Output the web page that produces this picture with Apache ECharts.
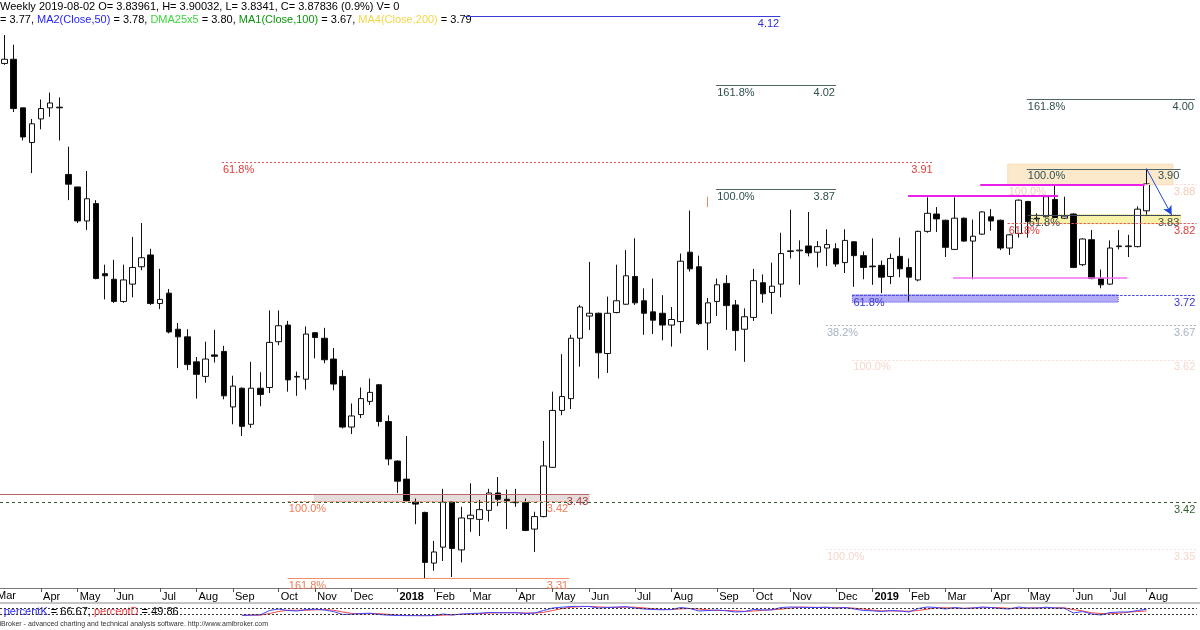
<!DOCTYPE html>
<html><head><meta charset="utf-8">
<script src="https://cdn.jsdelivr.net/npm/echarts/dist/echarts.min.js"></script>
<style>html,body{margin:0;padding:0;background:#fff}#c{width:1200px;height:630px}</style>
</head><body><div id="c"></div>
<script>
// ---------- DATA (weekly bars, first visible bar = 2017-03-10, last = 2019-08-02) ----------
const opens = [4.052,4.058,3.988,3.938,3.972,3.988,3.989,3.892,3.874,3.825,
3.850,3.749,3.741,3.709,3.734,3.759,3.776,3.706,3.721,3.669,
3.658,3.622,3.601,3.632,3.637,3.557,3.584,3.532,3.584,3.585,
3.651,3.675,3.601,3.597,3.664,3.656,3.626,3.601,3.528,3.546,
3.565,3.589,3.536,3.479,3.453,3.420,3.405,3.332,3.355,3.420,
3.351,3.396,3.395,3.408,3.433,3.424,3.420,3.419,3.381,3.399,
3.470,3.552,3.569,3.656,3.688,3.692,3.634,3.693,3.705,3.745,
3.710,3.694,3.692,3.675,3.680,3.780,3.759,3.678,3.709,3.735,
3.704,3.669,3.686,3.736,3.722,3.734,3.781,3.782,3.789,3.780,
3.786,3.785,3.765,3.795,3.775,3.760,3.761,3.745,3.774,3.758,
3.740,3.810,3.835,3.826,3.784,3.829,3.796,3.806,3.831,3.826,
3.786,3.807,3.853,3.829,3.831,3.856,3.829,3.835,3.762,3.798,
3.742,3.734,3.788,3.788,3.788,3.83961];
const highs = [4.093,4.079,3.988,3.972,4.000,4.010,4.003,3.932,3.874,3.897,
3.855,3.762,3.769,3.762,3.802,3.822,3.785,3.756,3.727,3.678,
3.669,3.629,3.651,3.668,3.645,3.602,3.585,3.622,3.607,3.696,
3.696,3.681,3.608,3.673,3.665,3.671,3.642,3.610,3.562,3.585,
3.598,3.590,3.545,3.480,3.515,3.425,3.406,3.364,3.439,3.421,
3.413,3.447,3.423,3.439,3.456,3.438,3.439,3.425,3.406,3.508,
3.579,3.633,3.661,3.704,3.766,3.693,3.716,3.762,3.783,3.800,
3.728,3.742,3.718,3.701,3.778,3.840,3.775,3.714,3.742,3.747,
3.711,3.699,3.756,3.748,3.765,3.808,3.841,3.797,3.838,3.796,
3.813,3.793,3.813,3.796,3.781,3.800,3.768,3.778,3.801,3.771,
3.811,3.859,3.845,3.827,3.859,3.830,3.827,3.839,3.842,3.827,
3.806,3.856,3.854,3.836,3.861,3.877,3.860,3.836,3.800,3.812,
3.755,3.797,3.812,3.805,3.846,3.90032];
const lows = [4.050,3.982,3.941,3.894,3.957,3.975,3.941,3.855,3.822,3.812,
3.741,3.712,3.707,3.707,3.715,3.754,3.704,3.698,3.663,3.613,
3.610,3.569,3.592,3.621,3.568,3.532,3.515,3.527,3.558,3.577,
3.646,3.579,3.573,3.582,3.627,3.620,3.581,3.526,3.518,3.541,
3.560,3.529,3.473,3.433,3.421,3.388,3.310,3.321,3.335,3.312,
3.333,3.377,3.371,3.392,3.414,3.381,3.413,3.378,3.348,3.398,
3.469,3.545,3.554,3.615,3.668,3.598,3.606,3.692,3.704,3.704,
3.661,3.662,3.653,3.644,3.663,3.752,3.675,3.639,3.688,3.668,
3.638,3.622,3.681,3.707,3.691,3.715,3.771,3.733,3.774,3.758,
3.760,3.759,3.750,3.730,3.741,3.733,3.721,3.734,3.744,3.709,
3.738,3.808,3.809,3.773,3.783,3.795,3.741,3.805,3.811,3.783,
3.776,3.801,3.801,3.824,3.830,3.829,3.828,3.757,3.760,3.741,
3.728,3.733,3.784,3.773,3.787,3.8341];
const closes = [4.058,3.987,3.946,3.965,3.987,3.995,3.988,3.878,3.825,3.857,
3.742,3.746,3.709,3.740,3.758,3.772,3.706,3.712,3.665,3.658,
3.618,3.604,3.626,3.630,3.573,3.587,3.529,3.584,3.575,3.650,
3.674,3.596,3.600,3.662,3.657,3.625,3.590,3.528,3.544,3.569,
3.578,3.536,3.482,3.450,3.422,3.417,3.333,3.348,3.420,3.353,
3.397,3.401,3.409,3.433,3.424,3.422,3.419,3.379,3.399,3.472,
3.552,3.572,3.656,3.701,3.692,3.635,3.692,3.710,3.746,3.707,
3.692,3.682,3.675,3.683,3.767,3.756,3.677,3.707,3.733,3.703,
3.667,3.687,3.739,3.720,3.731,3.778,3.782,3.783,3.779,3.788,
3.791,3.763,3.797,3.775,3.758,3.759,3.744,3.771,3.756,3.744,
3.810,3.836,3.828,3.787,3.829,3.796,3.803,3.838,3.825,3.786,
3.805,3.855,3.824,3.828,3.860,3.830,3.832,3.758,3.799,3.742,
3.733,3.786,3.789,3.789,3.842,3.87836];

const percentK = [null,null,null,null,null,null,null,null,null,null,
null,null,null,null,null,null,null,null,null,null,
null,null,null,null,null,null,5,10,12,55,
70,55,50,65,68,60,45,15,18,25,
28,15,8,5,3,3,2,5,20,10,
20,25,28,35,33,32,33,25,30,55,
80,88,95,97,95,80,85,90,93,80,
70,65,62,65,85,75,50,55,60,52,
40,45,65,60,62,85,90,88,85,85,
88,78,85,70,55,52,45,55,50,40,
75,90,85,70,85,75,80,90,85,75,
70,90,80,78,88,80,78,30,45,20,
10,35,40,40,55,66.67];
const percentD = [null,null,null,null,null,null,null,null,null,null,
null,null,null,null,null,null,null,null,null,null,
null,null,null,null,null,null,8,8,9,25,
45,58,58,57,61,64,58,40,26,19,
24,23,17,9,5,4,3,3,9,12,
17,18,24,29,32,33,33,30,29,37,
55,74,88,93,96,91,87,85,89,88,
81,72,66,64,71,75,70,60,55,56,
51,46,50,57,62,69,79,88,88,86,
86,84,84,78,70,59,51,51,50,48,
55,68,83,82,80,77,80,82,85,83,
77,78,80,83,82,82,82,63,51,32,
25,22,28,38,45,49.86];

// Weekly categories: the bars plus 5 empty future weeks
const firstWeek = '2017-03-10';
const weekCount = 131;
const monthNames = ['Jan','Feb','Mar','Apr','May','Jun','Jul','Aug','Sep','Oct','Nov','Dec'];

// Annotation levels: [fromBar, toBar, price, leftText, rightText, styleKey]
const levels = [
  [50.4, 84.9, 4.12, '', '4.12', 'blue'],
  [77.9, 91.0, 4.02, '161.8%', '4.02', 'slate'],
  [77.9, 91.0, 3.87, '100.0%', '3.87', 'slate'],
  [111.9, 130.3, 4.00, '161.8%', '4.00', 'slate'],
  [111.9, 128.7, 3.90, '100.0%', '3.90', 'slate'],
  [23.8, 101.7, 3.91, '61.8%', '3.91', 'redDot'],
  [-0.5, 64.0, 3.431, '', '3.43', 'brown'],
  [-0.5, 130.45, 3.420, '', '3.42', 'greenDot'],
  [31.0, 61.8, 3.421, '100.0%', '3.42', 'coralDot'],
  [31.0, 61.8, 3.3105, '161.8%', '3.31', 'coral'],
  [109.8, 130.45, 3.878, '100.0%', '3.88', 'faintSalmon'],
  [112.0, 128.7, 3.8336, '61.8%', '3.83', 'darkGray'],
  [109.8, 130.45, 3.822, '61.8%', '3.82', 'redDot'],
  [92.8, 130.45, 3.7175, '61.8%', '3.72', 'blueDot'],
  [89.9, 130.45, 3.674, '38.2%', '3.67', 'grayDot'],
  [92.8, 130.45, 3.625, '100.0%', '3.62', 'faintPink'],
  [89.9, 130.45, 3.352, '100.0%', '3.35', 'faintPink'],
  [106.8, 124.8, 3.877, '', '', 'magenta'],
  [98.9, 115.3, 3.861, '', '', 'magenta'],
  [103.8, 122.9, 3.743, '', '', 'pink']
];
// Zones: [fromBar, toBar, lowPrice, highPrice, styleKey]
const zones = [
  [33.9, 64.0, 3.420, 3.431, 'grayZone'],
  [109.8, 127.9, 3.877, 3.907, 'peach'],
  [112.0, 128.7, 3.821, 3.834, 'yellow'],
  [92.8, 121.9, 3.708, 3.7185, 'lavender']
];
// Segments: [fromBar, fromPrice, toBar, toPrice, styleKey]
const segments = [
  [125, 3.90032, 127.75, 3.8336, 'arrow'],
  [76.9, 3.860, 76.9, 3.845, 'orangeTick']
];

// ---------- STYLES ----------
const FONT = "'Liberation Sans', Arial, sans-serif";
const lineStyles = {
  blue: {color:'#3b3bd8', type:'solid', width:1, text:'#2f2fd0'},
  slate: {color:'#4f6464', type:'solid', width:1, text:'#2f4f4f'},
  redDot: {color:'#e85a5a', type:[2,2], width:1, text:'#e23a3a'},
  brown: {color:'#b86a6a', type:'solid', width:1, text:'#a53a3a'},
  greenDot: {color:'#2f5f2f', type:[3,3], width:1, text:'#2f5f2f'},
  coralDot: {color:'#f2906e', type:[2,2], width:1, text:'#f27b56'},
  coral: {color:'#f2906e', type:'solid', width:1, text:'#f27b56'},
  faintSalmon: {color:'#f9dccf', type:[2,2], width:1, text:'#f7cbb8'},
  darkGray: {color:'#3c4a5c', type:'solid', width:1, text:'#444c50'},
  blueDot: {color:'#4444e0', type:[2,2], width:1, text:'#3a3ad2'},
  grayDot: {color:'#aab6c4', type:[2,2], width:1, text:'#a6b3c2'},
  faintPink: {color:'#f9e3dc', type:[2,2], width:1, text:'#f5d6cc'},
  magenta: {color:'#ea1fea', type:'solid', width:2, text:'#ea1fea'},
  pink: {color:'#f070f0', type:'solid', width:1.5, text:'#f070f0'},
  arrow: {color:'#1f49d8', type:'solid', width:1, text:'#1f49d8'},
  orangeTick: {color:'#f08a60', type:'solid', width:1, text:'#f08a60'}
};
const zoneStyles = {
  grayZone: {color:'#e6dcdc', borderColor:'#d8c8c8'},
  peach: {color:'#fce9cc', borderColor:'#f3c88c'},
  yellow: {color:'#f8f1a8', borderColor:'#e8d070'},
  lavender: {color:'#b2acf6', borderColor:'#5a54e6'}
};

// ---------- BUILD ----------
const pad = n => (n < 10 ? '0' : '') + n;
const categories = [];
const monthOf = [];
{
  const d0 = new Date(firstWeek + 'T00:00:00Z');
  for (let k = 0; k < weekCount; k++) {
    const d = new Date(d0.getTime() + k * 7 * 86400000);
    categories.push(d.getUTCFullYear() + '-' + pad(d.getUTCMonth() + 1) + '-' + pad(d.getUTCDate()));
    monthOf.push(d.getUTCFullYear() * 12 + d.getUTCMonth());
  }
}
const lastBar = opens.length - 1;
const showMonth = (i) => i > 0 && i <= lastBar && monthOf[i] !== monthOf[i - 1];

const candleData = opens.map((o, i) => [i, o, closes[i], lows[i], highs[i]]);
const kData = percentK.map((v, i) => [i, v == null ? '-' : v]);
const dData = percentD.map((v, i) => [i, v == null ? '-' : v]);

const labelBase = {fontSize: 11, fontFamily: FONT, distance: [1, 2]};
const mlData = [];
levels.forEach(([x0, x1, p, lt, rt, sk]) => {
  const s = lineStyles[sk];
  const ls = {color: s.color, type: s.type, width: s.width, opacity: 1};
  mlData.push([
    {coord: [x0, p], lineStyle: ls,
     label: lt ? Object.assign({show: true, position: 'insideStartBottom', formatter: lt, color: s.text}, labelBase) : {show: false}},
    {coord: [x1, p]}
  ]);
  if (rt) {
    mlData.push([
      {coord: [x0, p], lineStyle: ls,
       label: Object.assign({show: true, position: 'insideEndBottom', formatter: rt, color: s.text}, labelBase)},
      {coord: [x1, p]}
    ]);
  }
});
segments.forEach(([x0, p0, x1, p1, sk]) => {
  const s = lineStyles[sk];
  mlData.push([
    {coord: [x0, p0], symbol: 'none', lineStyle: {color: s.color, type: s.type, width: s.width, opacity: 1}, label: {show: false}},
    {coord: [x1, p1], symbol: sk === 'arrow' ? 'arrow' : 'none', symbolSize: [7, 9]}
  ]);
});
const maData = zones.map(([x0, x1, pl, ph, sk]) => {
  const z = zoneStyles[sk];
  return [
    {coord: [x0, pl], itemStyle: {color: z.color, borderColor: z.borderColor, borderType: 'dotted', borderWidth: 1, opacity: 1}},
    {coord: [x1, ph]}
  ];
});

const chart = echarts.init(document.getElementById('c'));
const GRID_WIDTH = 1196.8;
const T11 = '11px ' + FONT;
chart.setOption({
  animation: false,
  backgroundColor: '#ffffff',
  textStyle: {fontFamily: FONT},
  grid: [
    {left: 0, top: 0, width: GRID_WIDTH, height: 588, containLabel: false},
    {left: 0, top: 606, width: GRID_WIDTH, height: 10, containLabel: false}
  ],
  xAxis: [
    {type: 'category', gridIndex: 0, data: categories, boundaryGap: true, position: 'bottom',
     axisLine: {show: true, lineStyle: {color: '#7a7a7a', width: 1}},
     axisTick: {show: true, alignWithLabel: true, interval: showMonth, length: 4, lineStyle: {color: '#555'}},
     axisLabel: {show: true, interval: showMonth, align: 'left', margin: 3, padding: [0, 0, 0, 2],
       fontSize: 11, color: '#000', fontFamily: FONT,
       formatter: (v) => {
         const m = +v.slice(5, 7) - 1;
         return m === 0 ? '{y|' + v.slice(0, 4) + '}' : monthNames[m];
       },
       rich: {y: {fontWeight: 'bold', fontSize: 11, color: '#000', fontFamily: FONT}}},
     splitLine: {show: false}},
    {type: 'value', gridIndex: 0, min: -0.5, max: 130.5, show: false, splitLine: {show: false}},
    {type: 'value', gridIndex: 1, min: -0.5, max: 130.5, show: false, splitLine: {show: false}}
  ],
  yAxis: [
    {type: 'value', gridIndex: 0, min: 3.2961, max: 4.1434, show: false, splitLine: {show: false}, scale: true},
    {type: 'value', gridIndex: 1, min: 0, max: 100, show: false, splitLine: {show: false}}
  ],
  series: [
    {
      type: 'candlestick', xAxisIndex: 1, yAxisIndex: 0,
      dimensions: ['bar', 'open', 'close', 'lowest', 'highest'],
      encode: {x: 'bar', y: ['open', 'close', 'lowest', 'highest']},
      data: candleData, barWidth: 6, silent: true,
      itemStyle: {color: '#ffffff', color0: '#000000', borderColor: '#111', borderColor0: '#111', borderWidth: 1},
      markLine: {silent: true, symbol: ['none', 'none'], animation: false, precision: 4, data: mlData},
      markArea: {silent: true, animation: false, data: maData}
    },
    {type: 'line', xAxisIndex: 2, yAxisIndex: 1, data: dData, showSymbol: false, silent: true,
     lineStyle: {color: '#f04848', width: 1}, connectNulls: false},
    {type: 'line', xAxisIndex: 2, yAxisIndex: 1, data: kData, showSymbol: false, silent: true,
     lineStyle: {color: '#4444ff', width: 1}, connectNulls: false,
     markLine: {silent: true, symbol: ['none', 'none'], label: {show: false},
       lineStyle: {color: '#333', type: [2, 2], width: 1},
       data: [{yAxis: 80}, {yAxis: 20}]}}
  ],
  graphic: [
    {type: 'text', left: 0, top: 1, silent: true,
     style: {text: 'Weekly 2019-08-02 O= 3.83961, H= 3.90032, L= 3.8341, C= 3.87836 (0.9%) V= 0', font: T11, fill: '#000'}},
    {type: 'text', left: 0, top: 14, silent: true,
     style: {text: '{k|= 3.77, }{b|MA2(Close,50)}{k| = 3.78, }{g|DMA25x5}{k| = 3.80, }{d|MA1(Close,100)}{k| = 3.67, }{y|MA4(Close,200)}{k| = 3.79}',
       font: T11, fill: '#000',
       rich: {k: {fill: '#000', color: '#000', font: T11},
              b: {fill: '#2424ff', color: '#2424ff', font: T11},
              g: {fill: '#3ad83a', color: '#3ad83a', font: T11},
              d: {fill: '#0a960a', color: '#0a960a', font: T11},
              y: {fill: '#f2d64a', color: '#f2d64a', font: T11}}}},
    {type: 'text', left: -3, top: 590, silent: true, style: {text: 'Mar', font: T11, fill: '#000'}},
    {type: 'line', silent: true, shape: {x1: 0, y1: 603, x2: 1200, y2: 603}, style: {stroke: '#8a8a8a', lineWidth: 1}},
    {type: 'text', left: -3, top: 606, silent: true,
     style: {text: '{b|- percentK}{k| = 66.67, }{r|percentD}{k| = 49.86}',
       font: T11, fill: '#000',
       rich: {k: {fill: '#000', color: '#000', font: T11, backgroundColor: '#fff'},
              b: {fill: '#2a2aff', color: '#2a2aff', font: T11, backgroundColor: '#fff'},
              r: {fill: '#f03a3a', color: '#f03a3a', font: T11, backgroundColor: '#fff'}}}},
    {type: 'text', left: -11, top: 621, silent: true,
     style: {text: 'AmiBroker - advanced charting and technical analysis software. http://www.amibroker.com', font: '7px ' + FONT, fill: '#333'}}
  ]
});
</script>
</body></html>
